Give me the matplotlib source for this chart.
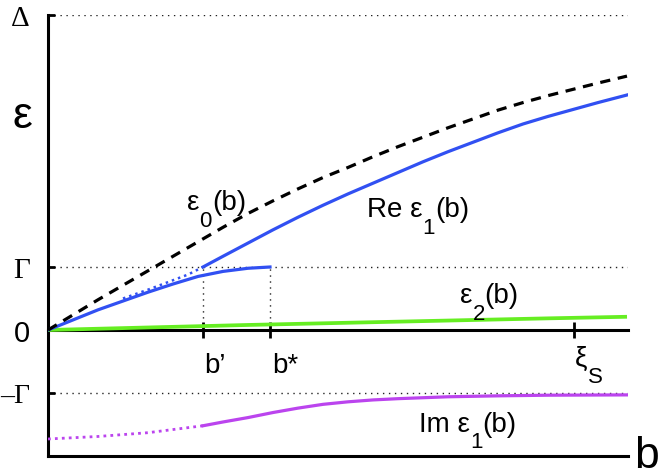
import matplotlib
matplotlib.use("Agg")
import matplotlib.pyplot as plt

# ---------------- data ----------------
eps0_b = [0.0, 0.25, 0.5, 0.75, 1.0, 1.25, 1.5, 1.75, 2.0, 2.25, 2.5, 2.75, 3.0,
          3.25, 3.5, 3.75, 4.0, 4.25, 4.5, 4.75, 5.0, 5.25, 5.5, 5.79]
eps0_v = [0.0, 0.24, 0.48, 0.71, 0.94, 1.17, 1.40, 1.63, 1.85, 2.05, 2.24, 2.42, 2.58,
          2.75, 2.91, 3.06, 3.21, 3.35, 3.49, 3.61, 3.72, 3.82, 3.92, 4.03]

re1_b = [1.55, 1.75, 2.0, 2.25, 2.5, 2.75, 3.0, 3.25, 3.5, 3.75, 4.0, 4.25, 4.5,
         4.75, 5.0, 5.25, 5.5, 5.79]
re1_v = [1.0, 1.17, 1.38, 1.59, 1.79, 1.98, 2.16, 2.33, 2.5, 2.67, 2.83, 2.98, 3.13,
         3.27, 3.39, 3.5, 3.61, 3.73]

re1_dot_b = [0.75, 1.0, 1.25, 1.4, 1.55]
re1_dot_v = [0.5, 0.64, 0.79, 0.88, 1.0]

low_b = [0.0, 0.25, 0.5, 0.75, 1.0, 1.25, 1.5, 1.75, 2.0, 2.22]
low_v = [0.0, 0.16, 0.32, 0.46, 0.6, 0.73, 0.85, 0.93, 0.98, 1.0]

eps2_b = [0.0, 1.0, 2.0, 3.0, 4.0, 5.0, 5.79]
eps2_v = [0.0, 0.04, 0.08, 0.115, 0.15, 0.185, 0.21]

im1_dot_b = [0.0, 0.5, 1.0, 1.55]
im1_dot_v = [-1.73, -1.69, -1.63, -1.52]
im1_b = [1.55, 1.75, 2.0, 2.25, 2.5, 2.75, 3.0, 3.25, 3.5, 4.0, 4.5, 5.0, 5.79]
im1_v = [-1.52, -1.46, -1.39, -1.31, -1.24, -1.18, -1.14, -1.11, -1.09, -1.06,
         -1.045, -1.035, -1.03]

ytick_vals = [-1, 0, 1, 5]
ytick_labels = ["\u2013\u0393", "0", "\u0393", "\u0394"]
xtick_vals = [1.55, 2.22, 5.26]          # b', b*, xi_S
gamma_level = 1.0
delta_level = 5.0

# ---------------- style ----------------
plt.rcParams['font.family'] = ['Liberation Sans', 'DejaVu Sans']

BLUE = '#3150F2'
GREEN = '#66EE22'
PURPLE = '#BB44EE'
LW = 2.3
FS = 20
TFS = 21
SUB = 16
SUB_DY = -12

fig = plt.figure(figsize=(6.64, 4.77), dpi=100)
ax = fig.add_axes([48/664, 20/477, 580/664, 441/477])
ax.set_xlim(0, 5.8)
ax.set_ylim(-2, 5)

# dotted guide lines
dot = dict(color='#222222', lw=1.0, linestyle=(0, (1, 3.3)))
for lvl in (delta_level, gamma_level, -gamma_level):
    ax.plot([0, 5.8], [lvl, lvl], **dot, zorder=1)
ax.plot([xtick_vals[0]] * 2, [0, gamma_level], **dot, zorder=1)
ax.plot([xtick_vals[1]] * 2, [0, gamma_level], **dot, zorder=1)

# curves
ax.plot(eps2_b, eps2_v, color=GREEN, lw=LW + 0.4, zorder=3, solid_capstyle='butt')
ax.plot(low_b, low_v, color=BLUE, lw=LW, zorder=4)
ax.plot(re1_dot_b, re1_dot_v, color=BLUE, lw=1.8, linestyle=(0, (1, 1.6)), zorder=4)
ax.plot(re1_b, re1_v, color=BLUE, lw=LW, zorder=4)
ax.plot(im1_dot_b, im1_dot_v, color=PURPLE, lw=2.0, linestyle=(0, (1, 1.5)), zorder=4)
ax.plot(im1_b, im1_v, color=PURPLE, lw=LW, zorder=4)
ax.plot(eps0_b, eps0_v, color='k', lw=LW, linestyle=(0, (3.2, 2.4)), zorder=5)

# axes
for s in ('top', 'right'):
    ax.spines[s].set_visible(False)
ax.spines['left'].set_linewidth(2.2)
ax.spines['bottom'].set_linewidth(2.2)
ax.spines['bottom'].set_position(('data', 0))
ax.spines['bottom'].set_zorder(2)
ax.axhline(-2, color='k', lw=2.2, clip_on=False, zorder=6)

ax.set_yticks(ytick_vals)
ax.set_yticklabels(ytick_labels, fontsize=TFS)
ax.tick_params(axis='y', direction='in', length=5, width=2, pad=13)
for lbl in ax.get_yticklabels():
    if lbl.get_text() != "0":
        lbl.set_fontfamily(['Liberation Serif', 'DejaVu Serif'])
    if lbl.get_text().startswith("\u2013"):
        lbl.set_fontsize(20)

ax.set_xticks(xtick_vals)
ax.set_xticklabels([])
ax.tick_params(axis='x', direction='inout', length=12, width=2)

renderer = fig.canvas.get_renderer()


def rich(x, y, pieces):
    """Draw a label made of pieces (text, size, dy_points) placed side by side."""
    off = 0.0
    for txt, size, dy in pieces:
        t = ax.annotate(txt, (x, y), xytext=(off, dy), textcoords='offset points',
                        fontsize=size, ha='left', va='baseline', annotation_clip=False)
        off += t.get_window_extent(renderer).width * 72.0 / fig.dpi


# x tick labels
rich(xtick_vals[0] + 0.01, -0.667, [("b\u2019", FS, 0)])
rich(xtick_vals[1] + 0.02, -0.667, [("b*", FS, 0)])
rich(xtick_vals[2] + 0.01, -0.556, [("\u03be", FS, 0), ("S", SUB, SUB_DY)])

# curve labels
rich(1.39, 1.92, [("\u03b5", FS, 0), ("0", SUB, SUB_DY), ("(b)", FS, 0)])
rich(3.19, 1.81, [("Re \u03b5", FS, 0), ("1", SUB, SUB_DY), ("(b)", FS, 0)])
rich(4.12, 0.44, [("\u03b5", FS, 0), ("2", SUB, SUB_DY), ("(b)", FS, 0)])
rich(3.71, -1.60, [("Im \u03b5", FS, 0), ("1", SUB, SUB_DY), ("(b)", FS, 0)])

# axis labels
fig.text(12/664, (477-128)/477, "\u03b5", fontsize=32, ha='left', va='baseline')
fig.text(634/664, (477-468)/477, "b", fontsize=32, ha='left', va='baseline')

fig.savefig("out.png", dpi=100)
